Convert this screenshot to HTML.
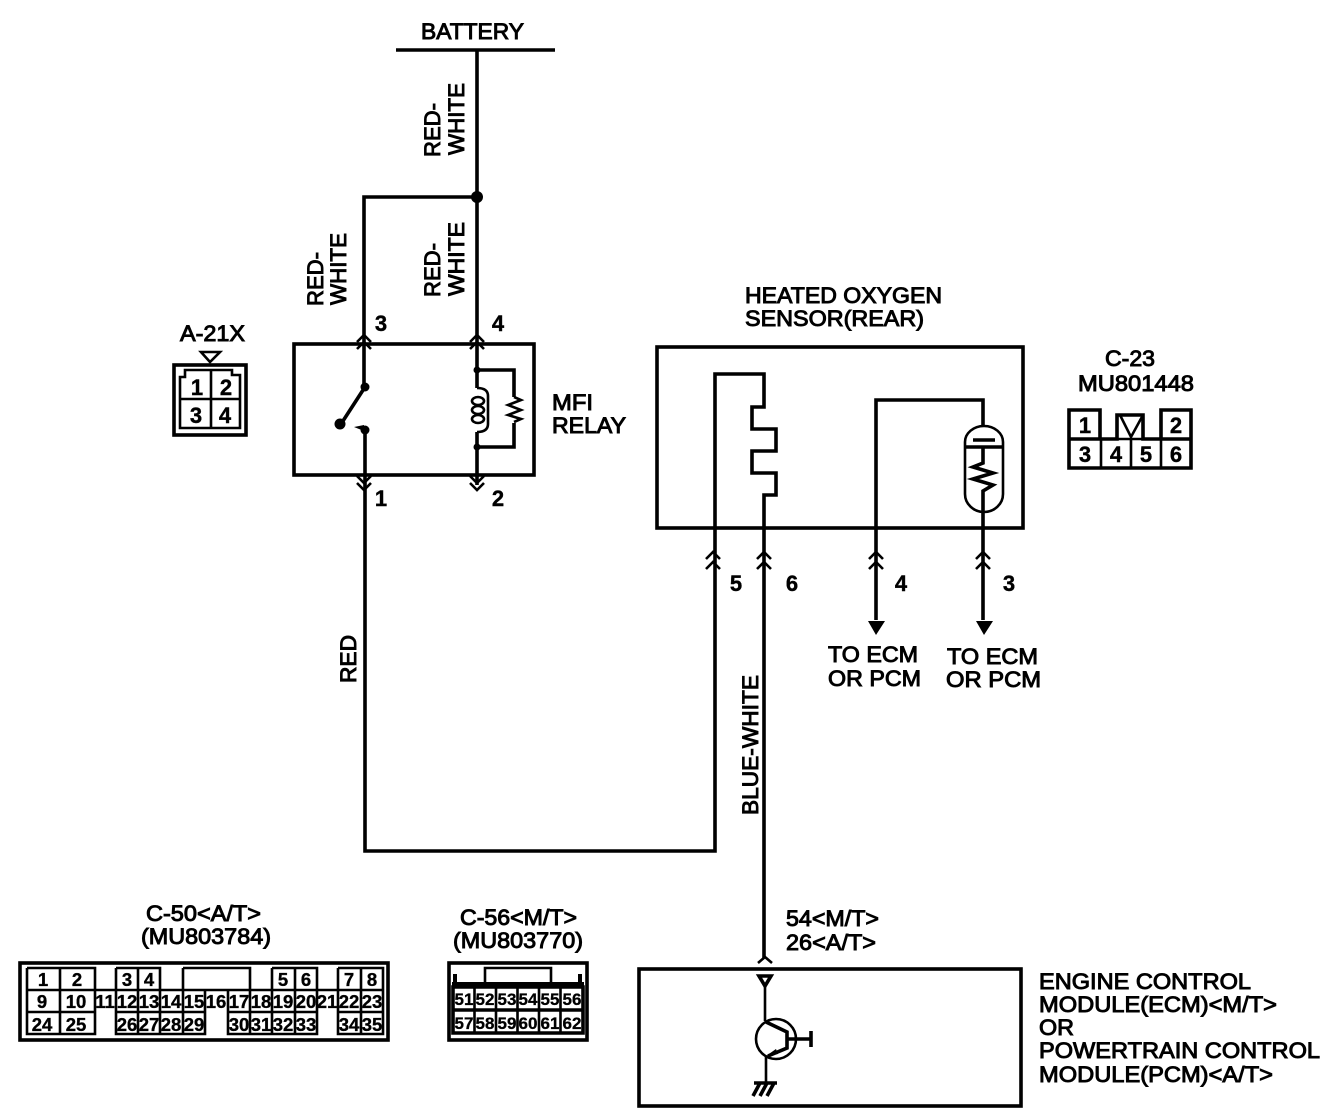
<!DOCTYPE html>
<html><head><meta charset="utf-8"><style>
html,body{margin:0;padding:0;background:#fff}
svg{display:block}
text{font-family:"Liberation Sans",sans-serif;font-size:22px;fill:#000;stroke:#000;stroke-width:.95}
.n{font-size:22px;text-anchor:middle;font-weight:bold;stroke-width:.4}
.s{font-size:18.5px;text-anchor:middle;font-weight:bold;stroke-width:.35}
.t{font-size:17px;text-anchor:middle;font-weight:bold;stroke-width:.3}
.w{fill:none;stroke:#000;stroke-width:3.6}
.m{fill:none;stroke:#000;stroke-width:2.6}
</style></head><body>
<svg xmlns="http://www.w3.org/2000/svg" width="1344" height="1118" viewBox="0 0 1344 1118">
<!-- wires -->
<path class="w" d="M396 50H555M477 50V345M477 197H364V387"/>
<circle cx="477" cy="197" r="6"/>
<rect class="w" x="294" y="344" width="240" height="131"/>
<path class="w" d="M477 345V388M477 432V485"/>
<path class="w" d="M365 387L341 424M365 430V851H715V374H764V407H752V429H776V451H752V473H776V495H764V958"/>
<circle cx="365" cy="387" r="4.500"/><circle cx="340" cy="424" r="5.500"/><circle cx="365" cy="430" r="4.500"/>
<path d="M354 427l10-2v6z"/>
<!-- relay coil -->
<path class="w" d="M477 370H514V447H477"/>
<circle cx="477" cy="370" r="3.500"/><circle cx="477" cy="447" r="3.500"/>
<path class="m" d="M477 388q11 0 11 8v28q0 8-11 8"/>
<ellipse class="m" cx="478" cy="401" rx="6" ry="4"/><ellipse class="m" cx="478" cy="410" rx="6" ry="4"/><ellipse class="m" cx="478" cy="419" rx="6" ry="4"/>
<path fill="#fff" stroke="none" d="M510 397h9v26h-9z"/>
<path class="m" d="M514 397l7 3-13 5 13 5-13 5 13 4-7 3"/>
<!-- chevrons relay -->
<path class="m" d="M357 342l7-7 7 7M357 349l7-7 7 7M470 342l7-7 7 7M470 349l7-7 7 7M357 476l7 7 7-7M357 483l7 7 7-7M470 476l7 7 7-7M470 483l7 7 7-7"/>
<!-- sensor box -->
<rect class="w" x="657" y="347" width="366" height="181"/>
<path class="w" d="M876 620V400H983V427M983 512V620"/>
<path class="m" d="M965 447V442a19 16 0 0 1 38 0V447V494a19 18 0 0 1-38 0Z"/>
<path class="w" d="M965 447H1003M973 440H995M983 447V463L973 467 993 473 973 479 993 485 983 491V512"/>
<path class="m" d="M706 559l7-7 7 7M706 569l7-7 7 7M757 559l7-7 7 7M757 569l7-7 7 7M869 559l7-7 7 7M869 569l7-7 7 7M976 559l7-7 7 7M976 569l7-7 7 7"/>
<path d="M868 621H885L876 635ZM976 621H993L984 635Z"/>
<!-- ECM box -->
<rect class="w" x="639" y="969" width="382" height="137"/>
<path class="m" d="M758 963l7-6 7 6"/>
<path class="w" d="M759 976H771L765 986Z"/>
<path class="m" d="M765 986V1021M766 1056V1084"/>
<circle class="m" cx="776" cy="1039" r="20"/>
<path class="w" d="M766 1022L787 1032V1048L768 1056M787 1039H811"/>
<path d="M766 1056l10-7 2 5z"/>
<path class="w" d="M811 1031V1047"/>
<path class="w" d="M754 1083H777M760 1083l-7 13M767 1083l-7 13M774 1083l-7 13"/>
<!-- main labels -->
<text x="421" y="39" textLength="103" lengthAdjust="spacingAndGlyphs">BATTERY</text>
<text transform="translate(440 157) rotate(-90)" textLength="54" lengthAdjust="spacingAndGlyphs">RED-</text>
<text transform="translate(464 155) rotate(-90)" textLength="72" lengthAdjust="spacingAndGlyphs">WHITE</text>
<text transform="translate(440 297) rotate(-90)" textLength="54" lengthAdjust="spacingAndGlyphs">RED-</text>
<text transform="translate(464 296) rotate(-90)" textLength="74" lengthAdjust="spacingAndGlyphs">WHITE</text>
<text transform="translate(323 306) rotate(-90)" textLength="54" lengthAdjust="spacingAndGlyphs">RED-</text>
<text transform="translate(346 305) rotate(-90)" textLength="72" lengthAdjust="spacingAndGlyphs">WHITE</text>
<text transform="translate(356 683) rotate(-90)" textLength="48" lengthAdjust="spacingAndGlyphs">RED</text>
<text transform="translate(758 815) rotate(-90)" textLength="140" lengthAdjust="spacingAndGlyphs">BLUE-WHITE</text>
<text class="n" x="381" y="331">3</text><text class="n" x="498" y="331">4</text>
<text class="n" x="381" y="506">1</text><text class="n" x="498" y="506">2</text>
<text class="n" x="736" y="591">5</text><text class="n" x="792" y="591">6</text>
<text class="n" x="901" y="591">4</text><text class="n" x="1009" y="591">3</text>
<text x="552" y="410" textLength="41" lengthAdjust="spacingAndGlyphs">MFI</text>
<text x="552" y="433" textLength="74" lengthAdjust="spacingAndGlyphs">RELAY</text>
<text x="745" y="303" textLength="197" lengthAdjust="spacingAndGlyphs">HEATED OXYGEN</text>
<text x="745" y="326" textLength="179" lengthAdjust="spacingAndGlyphs">SENSOR(REAR)</text>
<text x="180" y="341" textLength="65" lengthAdjust="spacingAndGlyphs">A-21X</text>
<text x="1105" y="366" textLength="50" lengthAdjust="spacingAndGlyphs">C-23</text>
<text x="1078" y="391" textLength="116" lengthAdjust="spacingAndGlyphs">MU801448</text>
<text x="828" y="662" textLength="90" lengthAdjust="spacingAndGlyphs">TO ECM</text>
<text x="828" y="686" textLength="93" lengthAdjust="spacingAndGlyphs">OR PCM</text>
<text x="947" y="664" textLength="91" lengthAdjust="spacingAndGlyphs">TO ECM</text>
<text x="946" y="687" textLength="95" lengthAdjust="spacingAndGlyphs">OR PCM</text>
<text x="786" y="926" textLength="93" lengthAdjust="spacingAndGlyphs">54&lt;M/T&gt;</text>
<text x="786" y="950" textLength="90" lengthAdjust="spacingAndGlyphs">26&lt;A/T&gt;</text>
<text x="1039" y="989" textLength="212" lengthAdjust="spacingAndGlyphs">ENGINE CONTROL</text>
<text x="1039" y="1012" textLength="238" lengthAdjust="spacingAndGlyphs">MODULE(ECM)&lt;M/T&gt;</text>
<text x="1039" y="1035" textLength="35" lengthAdjust="spacingAndGlyphs">OR</text>
<text x="1039" y="1058" textLength="281" lengthAdjust="spacingAndGlyphs">POWERTRAIN CONTROL</text>
<text x="1039" y="1082" textLength="234" lengthAdjust="spacingAndGlyphs">MODULE(PCM)&lt;A/T&gt;</text>
<text x="146" y="921" textLength="115" lengthAdjust="spacingAndGlyphs">C-50&lt;A/T&gt;</text>
<text x="141" y="944" textLength="130" lengthAdjust="spacingAndGlyphs">(MU803784)</text>
<text x="460" y="925" textLength="117" lengthAdjust="spacingAndGlyphs">C-56&lt;M/T&gt;</text>
<text x="453" y="948" textLength="130" lengthAdjust="spacingAndGlyphs">(MU803770)</text>
<!-- A-21X connector -->
<rect x="174" y="365" width="72" height="70" fill="none" stroke="#000" stroke-width="3.6"/>
<path class="m" d="M201 352H220L210 362Z"/>
<path class="m" d="M180 428V377H185V370H232V375H240V428ZM211 370V428M180 399H240"/>
<text class="n" x="197" y="395">1</text><text class="n" x="226" y="395">2</text>
<text class="n" x="196" y="423">3</text><text class="n" x="225" y="423">4</text>
<!-- C-23 connector -->
<path class="w" d="M1069 410H1100V439H1117V415H1143V439H1161V410H1191V468H1069ZM1069 439H1100M1161 439H1191"/>
<path class="m" d="M1101 439H1161M1101 439V468M1131 439V468M1161 439V468M1120 415L1131 437 1143 415"/>
<text class="n" x="1085" y="433">1</text><text class="n" x="1176" y="433">2</text>
<text class="n" x="1085" y="462">3</text><text class="n" x="1116" y="462">4</text><text class="n" x="1146" y="462">5</text><text class="n" x="1176" y="462">6</text>
<!-- C-50 connector -->
<rect class="w" x="20" y="963" width="368" height="77"/>
<path class="m" d="M27 968H95V990M27 968V1034H95V1012H27M27 990H383M60 968V1034M95 990V1012M116 968H160V990M116 968V1034H205V1012H116M138 968V1034M160 968V1034M183 968H250V990M183 968V1034M205 990V1034M228 990V1034H317V1012H228M250 968V1034M272 968H317V990M272 968V1034M295 968V1034M317 968V1034M338 968H383V1034H338V968M361 968V1034M338 1012H383M116 1012H205"/>
<text class="s" x="43" y="986">1</text><text class="s" x="77" y="986">2</text><text class="s" x="127" y="986">3</text><text class="s" x="149" y="986">4</text><text class="s" x="283" y="986">5</text><text class="s" x="306" y="986">6</text><text class="s" x="349" y="986">7</text><text class="s" x="372" y="986">8</text>
<text class="s" x="42" y="1008">9</text><text class="s" x="76" y="1008">10</text><text class="s" x="105" y="1008">11</text><text class="s" x="127" y="1008">12</text><text class="s" x="149" y="1008">13</text><text class="s" x="171" y="1008">14</text><text class="s" x="194" y="1008">15</text><text class="s" x="216" y="1008">16</text><text class="s" x="239" y="1008">17</text><text class="s" x="261" y="1008">18</text><text class="s" x="283" y="1008">19</text><text class="s" x="306" y="1008">20</text><text class="s" x="327" y="1008">21</text><text class="s" x="349" y="1008">22</text><text class="s" x="372" y="1008">23</text>
<text class="s" x="42" y="1031">24</text><text class="s" x="76" y="1031">25</text><text class="s" x="127" y="1031">26</text><text class="s" x="149" y="1031">27</text><text class="s" x="171" y="1031">28</text><text class="s" x="194" y="1031">29</text><text class="s" x="239" y="1031">30</text><text class="s" x="261" y="1031">31</text><text class="s" x="283" y="1031">32</text><text class="s" x="306" y="1031">33</text><text class="s" x="349" y="1031">34</text><text class="s" x="372" y="1031">35</text>
<!-- C-56 connector -->
<rect class="w" x="449" y="963" width="138" height="77"/>
<path class="m" d="M485 982V968H551V982"/>
<path d="M452 982H584V987H452Z"/>
<path d="M453 974h4v10h-4zM578 974h4v10h-4z"/>
<path class="w" d="M453 987H583V1033H453ZM453 1010H583"/>
<path class="m" d="M474.500 987V1033M496 987V1033M517.500 987V1033M539 987V1033M560.500 987V1033"/>
<text class="t" x="464" y="1005">51</text><text class="t" x="485" y="1005">52</text><text class="t" x="507" y="1005">53</text><text class="t" x="528" y="1005">54</text><text class="t" x="550" y="1005">55</text><text class="t" x="572" y="1005">56</text>
<text class="t" x="464" y="1029">57</text><text class="t" x="485" y="1029">58</text><text class="t" x="507" y="1029">59</text><text class="t" x="528" y="1029">60</text><text class="t" x="550" y="1029">61</text><text class="t" x="572" y="1029">62</text>
</svg>
</body></html>
